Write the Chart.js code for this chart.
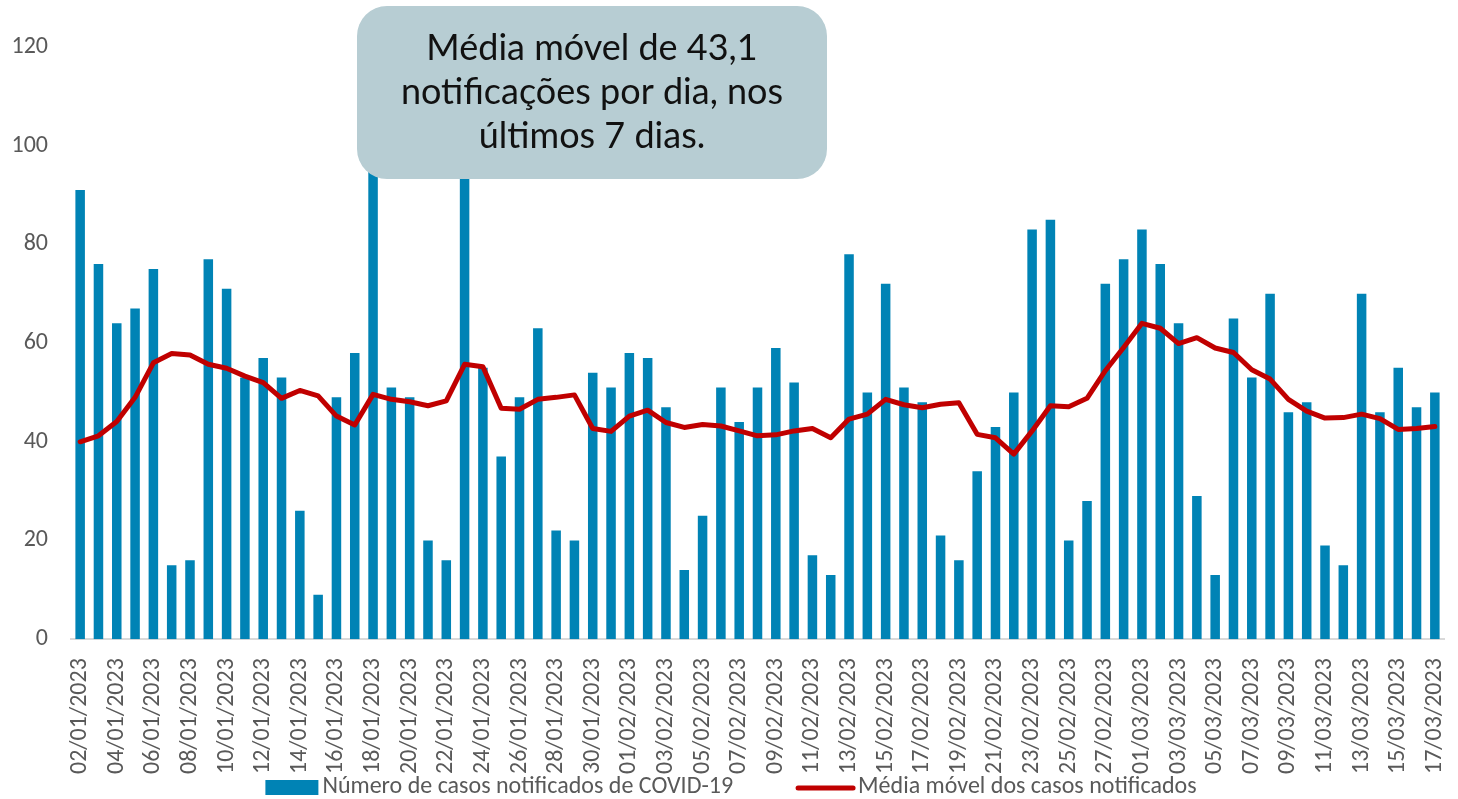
<!DOCTYPE html>
<html>
<head>
<meta charset="utf-8">
<script src="https://cdn.jsdelivr.net/npm/chart.js@4"></script>
<style>
  html, body { margin: 0; padding: 0; background: #fff; }
  #wrap { width: 1458px; height: 799px; }
</style>
</head>
<body>
<div id="wrap"><canvas id="grafico-casos"></canvas></div>
<script>
// datas (02/01/2023 a 17/03/2023)
const dias = [
  '02/01/2023','03/01/2023','04/01/2023','05/01/2023','06/01/2023','07/01/2023','08/01/2023',
  '09/01/2023','10/01/2023','11/01/2023','12/01/2023','13/01/2023','14/01/2023','15/01/2023',
  '16/01/2023','17/01/2023','18/01/2023','19/01/2023','20/01/2023','21/01/2023','22/01/2023',
  '23/01/2023','24/01/2023','25/01/2023','26/01/2023','27/01/2023','28/01/2023','29/01/2023',
  '30/01/2023','31/01/2023','01/02/2023','02/02/2023','03/02/2023','04/02/2023','05/02/2023',
  '06/02/2023','07/02/2023','08/02/2023','09/02/2023','10/02/2023','11/02/2023','12/02/2023',
  '13/02/2023','14/02/2023','15/02/2023','16/02/2023','17/02/2023','18/02/2023','19/02/2023',
  '20/02/2023','21/02/2023','22/02/2023','23/02/2023','24/02/2023','25/02/2023','26/02/2023',
  '27/02/2023','28/02/2023','01/03/2023','02/03/2023','03/03/2023','04/03/2023','05/03/2023',
  '06/03/2023','07/03/2023','08/03/2023','09/03/2023','10/03/2023','11/03/2023','12/03/2023',
  '13/03/2023','14/03/2023','15/03/2023','16/03/2023','17/03/2023'
];

// casos notificados por dia
const casos = [
  91, 76, 64, 67, 75, 15, 16,
  77, 71, 53, 57, 53, 26, 9,
  49, 58, 97, 51, 49, 20, 16,
  101, 55, 37, 49, 63, 22, 20,
  54, 51, 58, 57, 47, 14, 25,
  51, 44, 51, 59, 52, 17, 13,
  78, 50, 72, 51, 48, 21, 16,
  34, 43, 50, 83, 85, 20, 28,
  72, 77, 83, 76, 64, 29, 13,
  65, 53, 70, 46, 48, 19, 15,
  70, 46, 55, 47, 50
];

// media movel (7 dias)
const mediaMovel = [
  40.0, 41.2, 44.1, 49.0, 56.0, 57.9, 57.6,
  55.7, 54.9, 53.3, 52.0, 48.8, 50.4, 49.3,
  45.2, 43.4, 49.6, 48.6, 48.1, 47.3, 48.3,
  55.7, 55.2, 46.8, 46.6, 48.6, 49.0, 49.5,
  42.7, 42.1, 45.2, 46.4, 43.9, 42.9, 43.5,
  43.2, 42.2, 41.2, 41.4, 42.2, 42.7, 40.8,
  44.6, 45.6, 48.6, 47.5, 46.9, 47.6, 47.9,
  41.5, 40.8, 37.5, 42.2, 47.3, 47.1, 48.8,
  54.4, 59.1, 64.0, 63.0, 59.9, 61.1, 59.0,
  58.1, 54.6, 52.7, 48.6, 46.2, 44.8, 44.9,
  45.6, 44.7, 42.5, 42.7, 43.1
];

const ticksY = [0, 20, 40, 60, 80, 100, 120];

const textoCaixa = ['Média móvel de 43,1', 'notificações por dia, nos', 'últimos 7 dias.'];

const fonte = 'Calibri, Carlito, Lato, "Open Sans", sans-serif';
const cinza = '#595959';

// caixa de texto por cima das barras
const caixaTexto = {
  id: 'caixaTexto',
  afterDatasetsDraw(chart) {
    const ctx = chart.ctx;
    const x = 357, y = 6, w = 470, h = 173, r = 30;
    ctx.save();
    ctx.fillStyle = '#b7cdd3';
    ctx.beginPath();
    ctx.roundRect(x, y, w, h, r);
    ctx.fill();
    ctx.fillStyle = '#111111';
    ctx.font = '36px "Century Gothic", Lato, sans-serif';
    ctx.textAlign = 'center';
    ctx.textBaseline = 'middle';
    textoCaixa.forEach(function (linha, i) {
      ctx.fillText(linha, x + w / 2, 48 + i * 44);
    });
    ctx.restore();
  }
};

// legenda desenhada a mao embaixo do grafico
const legendaBaixo = {
  id: 'legendaBaixo',
  afterDraw(chart) {
    const ctx = chart.ctx;
    const ds = chart.data.datasets;
    const yc = 787;
    ctx.save();
    ctx.font = '24px ' + fonte;
    ctx.fillStyle = cinza;
    ctx.textBaseline = 'middle';
    const w1 = ctx.measureText(ds[0].label).width;
    const w2 = ctx.measureText(ds[1].label).width;
    const total = 53 + 4 + w1 + 65 + 55 + 5 + w2;
    let x = 731 - total / 2;
    ctx.fillStyle = ds[0].backgroundColor;
    ctx.fillRect(x, yc - 7, 53, 15);
    x += 57;
    ctx.fillStyle = cinza;
    ctx.fillText(ds[0].label, x, yc);
    x += w1 + 65;
    ctx.strokeStyle = ds[1].borderColor;
    ctx.lineWidth = 5;
    ctx.lineCap = 'round';
    ctx.beginPath();
    ctx.moveTo(x, yc + 1);
    ctx.lineTo(x + 55, yc + 1);
    ctx.stroke();
    x += 60;
    ctx.fillText(ds[1].label, x, yc);
    ctx.restore();
  }
};

const ctx = document.getElementById('grafico-casos').getContext('2d');
const grafico = new Chart(ctx, {
  data: {
    labels: dias,
    datasets: [
      {
        type: 'bar',
        label: 'Número de casos notificados de COVID-19',
        data: casos,
        backgroundColor: '#0083b5',
        borderWidth: 0,
        barPercentage: 0.52,
        categoryPercentage: 1.0,
        order: 2
      },
      {
        type: 'line',
        label: 'Média móvel dos casos notificados',
        data: mediaMovel,
        borderColor: '#c00000',
        backgroundColor: '#c00000',
        borderWidth: 5,
        pointRadius: 0,
        tension: 0,
        borderCapStyle: 'round',
        borderJoinStyle: 'round',
        order: 1
      }
    ]
  },
  options: {
    responsive: true,
    maintainAspectRatio: false,
    animation: false,
    layout: { padding: { top: 47, right: 14, left: 13, bottom: 6 } },
    plugins: {
      tooltip: { enabled: false },
      legend: { display: false }
    },
    scales: {
      x: {
        grid: { display: false, drawTicks: false },
        border: { display: true, color: '#d9d9d9', width: 2 },
        afterFit: function (eixo) {
          eixo.paddingLeft = 0;
          eixo.paddingRight = 0;
        },
        ticks: {
          autoSkip: false,
          maxRotation: 90,
          minRotation: 90,
          padding: 19,
          color: cinza,
          font: { family: fonte, size: 24 },
          callback: function (valor, indice) {
            return indice % 2 === 0 ? dias[indice] : '';
          }
        }
      },
      y: {
        min: 0,
        max: 120,
        grid: { display: false, drawTicks: false },
        border: { display: false },
        afterBuildTicks: function (eixo) {
          eixo.ticks = ticksY.map(function (v) { return { value: v }; });
        },
        afterFit: function (eixo) {
          eixo.width = 58;
        },
        ticks: {
          padding: 23,
          color: cinza,
          font: { family: fonte, size: 24 }
        }
      }
    }
  },
  plugins: [caixaTexto, legendaBaixo]
});
</script>
</body>
</html>
